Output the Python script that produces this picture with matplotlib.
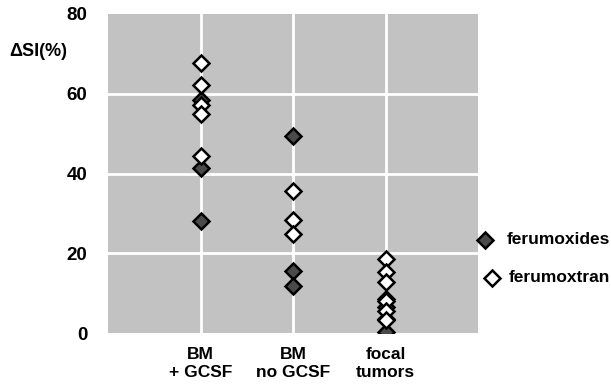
import matplotlib
matplotlib.use("Agg")
import matplotlib.pyplot as plt
from matplotlib.lines import Line2D

categories = ["BM\n+ GCSF", "BM\nno GCSF", "focal\ntumors"]
ferumoxides = [
    [58.5, 41.5, 28.2],
    [49.5, 15.5, 11.8],
    [8.5, 6.5, 3.5, 0.3],
]
ferumoxtran = [
    [67.8, 62.3, 57.3, 54.8, 44.5],
    [35.5, 28.3, 24.8],
    [18.5, 15.3, 12.8, 8.0, 5.5, 3.2],
]
yticks = [0, 20, 40, 60, 80]
series_names = ["ferumoxides", "ferumoxtran"]

plt.rcParams['font.family'] = ['Liberation Sans', 'DejaVu Sans']

fig = plt.figure(figsize=(6.11, 3.84), dpi=100)
ax = fig.add_axes([108/611, 51/384, 370/611, 319/384])
ax.set_facecolor('#c2c2c2')
ax.set_xlim(0, 4)
ax.set_ylim(0, 80)

xs = [1, 2, 3]
for x in xs:
    ax.axvline(x, color='white', lw=2, zorder=1)
for y in [20, 40, 60]:
    ax.axhline(y, color='white', lw=2, zorder=1)

fill_style = dict(marker='D', ms=8, mfc='#4a4a4a', mec='black', mew=1.8, ls='none', zorder=3)
open_style = dict(marker='D', ms=8, mfc='white', mec='black', mew=1.8, ls='none', zorder=4)

for x, vals in zip(xs, ferumoxides):
    ax.plot([x]*len(vals), vals, **fill_style)
for x, vals in zip(xs, ferumoxtran):
    ax.plot([x]*len(vals), vals, **open_style)

for s in ax.spines.values():
    s.set_visible(False)
ax.set_xticks(xs)
ax.set_xticklabels(categories, fontsize=12.5, fontweight='bold', linespacing=1.25)
ax.set_yticks(yticks)
ax.set_yticklabels([str(v) for v in yticks], fontsize=13.5, fontweight='bold')
ax.tick_params(axis='x', length=0, pad=10)
ax.tick_params(axis='y', length=0, pad=15)

fig.text(9/611, 1 - 52/384, "ΔSI(%)", fontsize=13, fontweight='bold', va='center', ha='left')

# legend outside the axes
fig.add_artist(Line2D([485/611], [1 - 240/384], transform=fig.transFigure, **fill_style))
fig.add_artist(Line2D([492/611], [1 - 278/384], transform=fig.transFigure, **open_style))
fig.text(507/611, 1 - 240/384, series_names[0], fontsize=12.5, fontweight='bold', va='center', ha='left')
fig.text(509/611, 1 - 278/384, series_names[1], fontsize=12.5, fontweight='bold', va='center', ha='left')

fig.savefig("out.png", dpi=100)
